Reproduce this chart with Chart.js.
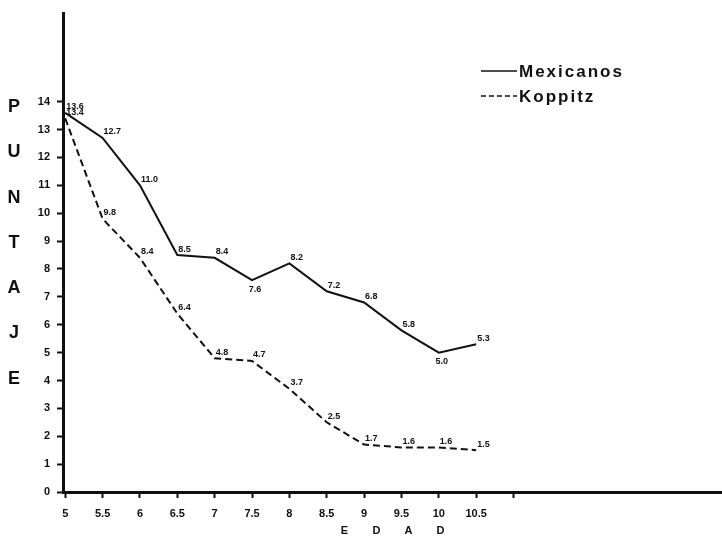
<!DOCTYPE html>
<html>
<head>
<meta charset="utf-8">
<script src="https://cdn.jsdelivr.net/npm/chart.js@4.4.1/dist/chart.umd.min.js"></script>
<style>
  html, body { margin: 0; padding: 0; background: #fff; }
  #grafico { display: block; }
</style>
</head>
<body>
<canvas id="grafico" width="722" height="540"></canvas>
<script>
// Datos
const edades = [5, 5.5, 6, 6.5, 7, 7.5, 8, 8.5, 9, 9.5, 10, 10.5];
const mexicanos = [13.6, 12.7, 11.0, 8.5, 8.4, 7.6, 8.2, 7.2, 6.8, 5.8, 5.0, 5.3];
const koppitz = [13.4, 9.8, 8.4, 6.4, 4.8, 4.7, 3.7, 2.5, 1.7, 1.6, 1.6, 1.5];

const ticksY = [0, 1, 2, 3, 4, 5, 6, 7, 8, 9, 10, 11, 12, 13, 14];
const ticksX = [5, 5.5, 6, 6.5, 7, 7.5, 8, 8.5, 9, 9.5, 10, 10.5, 11];
const etiquetasX = ['5', '5.5', '6', '6.5', '7', '7.5', '8', '8.5', '9', '9.5', '10', '10.5', ''];

const tituloY = 'PUNTAJE';
const tituloX = 'EDAD';

const tinta = '#111';
const fuente = '"Liberation Sans", Arial, sans-serif';

function puntos(valores) {
  return edades.map((x, i) => ({ x: x, y: valores[i] }));
}

// Valores junto a cada punto
const rotulos = {
  id: 'rotulos',
  afterDatasetsDraw(chart) {
    const ctx = chart.ctx;
    ctx.save();
    ctx.font = 'bold 9px ' + fuente;
    ctx.fillStyle = tinta;
    ctx.textBaseline = 'middle';
    chart.data.datasets.forEach((ds, d) => {
      const meta = chart.getDatasetMeta(d);
      meta.data.forEach((pt, i) => {
        const v = ds.data[i].y;
        const prev = ds.data[i - 1];
        const next = ds.data[i + 1];
        const valle = prev && next && v < prev.y && v < next.y;
        const txt = v.toFixed(1);
        if (valle) {
          ctx.textAlign = 'center';
          ctx.fillText(txt, pt.x + 3, pt.y + 9);
        } else {
          ctx.textAlign = 'left';
          ctx.fillText(txt, pt.x + 1, pt.y - 6);
        }
      });
    });
    ctx.restore();
  }
};

// Leyenda y títulos de los ejes
const extras = {
  id: 'extras',
  afterDraw(chart) {
    const ctx = chart.ctx;
    const area = chart.chartArea;
    ctx.save();
    ctx.fillStyle = tinta;
    ctx.strokeStyle = tinta;

    // leyenda
    chart.data.datasets.forEach((ds, d) => {
      const y = 71 + d * 25;
      ctx.lineWidth = 1.5;
      ctx.setLineDash(ds.borderDash ? [5, 3] : []);
      ctx.beginPath();
      ctx.moveTo(481, y);
      ctx.lineTo(517, y);
      ctx.stroke();
      ctx.setLineDash([]);
      ctx.font = 'bold 17px ' + fuente;
      ctx.letterSpacing = '2px';
      ctx.textAlign = 'left';
      ctx.textBaseline = 'middle';
      ctx.fillText(ds.label, 519, y + 1);
    });

    // título vertical, letra por letra
    ctx.letterSpacing = '0px';
    ctx.font = 'bold 18px ' + fuente;
    ctx.textAlign = 'center';
    ctx.textBaseline = 'middle';
    tituloY.split('').forEach((l, i) => {
      ctx.fillText(l, 14, 107 + i * 45.3);
    });

    // título horizontal
    ctx.font = 'bold 11px ' + fuente;
    const cx = (area.left + area.right) / 2;
    const n = tituloX.length;
    tituloX.split('').forEach((l, i) => {
      ctx.fillText(l, cx + (i - (n - 1) / 2) * 32, 531);
    });
    ctx.restore();
  }
};

const ctx = document.getElementById('grafico').getContext('2d');
new Chart(ctx, {
  type: 'line',
  data: {
    datasets: [
      {
        label: 'Mexicanos',
        data: puntos(mexicanos),
        borderColor: tinta,
        borderWidth: 2,
        pointRadius: 0,
        tension: 0,
        fill: false
      },
      {
        label: 'Koppitz',
        data: puntos(koppitz),
        borderColor: tinta,
        borderWidth: 2,
        borderDash: [7, 4],
        pointRadius: 0,
        tension: 0,
        fill: false
      }
    ]
  },
  options: {
    responsive: false,
    animation: false,
    layout: { padding: { top: 8, right: 0, left: 0, bottom: 0 } },
    plugins: {
      legend: { display: false },
      tooltip: { enabled: false }
    },
    scales: {
      x: {
        type: 'linear',
        min: 4.97,
        max: 13.79,
        afterBuildTicks: s => { s.ticks = ticksX.map(v => ({ value: v })); },
        afterFit: s => { s.height = 48; },
        grid: { drawOnChartArea: false, tickLength: 6, tickColor: tinta, tickWidth: 2 },
        border: { color: tinta, width: 3 },
        ticks: {
          autoSkip: false,
          maxRotation: 0,
          padding: 9,
          color: tinta,
          font: { family: fuente, size: 11, weight: 'bold' },
          callback: v => etiquetasX[ticksX.indexOf(v)]
        }
      },
      y: {
        min: 0,
        max: 17.16,
        afterBuildTicks: s => { s.ticks = ticksY.map(v => ({ value: v })); },
        afterFit: s => { s.width = 63; },
        grid: { drawOnChartArea: false, tickLength: 6, tickColor: tinta, tickWidth: 2 },
        border: { color: tinta, width: 3 },
        ticks: {
          padding: 7,
          color: tinta,
          font: { family: fuente, size: 11, weight: 'bold' },
          callback: v => String(v)
        }
      }
    }
  },
  plugins: [rotulos, extras]
});
</script>
</body>
</html>
